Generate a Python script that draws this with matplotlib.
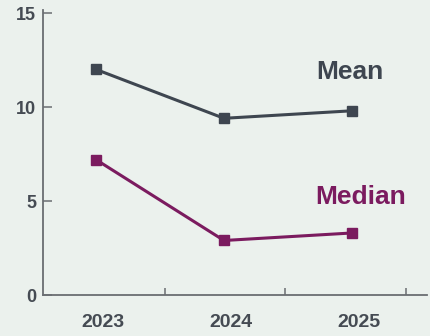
import matplotlib
matplotlib.use("Agg")
import matplotlib.pyplot as plt
from matplotlib.transforms import ScaledTranslation

plt.rcParams['font.family'] = ['Liberation Sans', 'DejaVu Sans']

# series values
years = [2023, 2024, 2025]
year_labels = ['2023', '2024', '2025']
mean_vals = [12.0, 9.4, 9.8]
median_vals = [7.2, 2.9, 3.3]
y_ticks = [0, 5, 10, 15]
x_minor_ticks = [2023.54, 2024.48, 2025.42]

bg = '#ebf1ed'
mean_color = '#3e4650'
median_color = '#7b1b5f'
text_color = '#454b53'
axis_color = '#6a6e72'

fig = plt.figure(figsize=(4.31, 3.36), dpi=100, facecolor=bg)
ax = fig.add_axes([0.0998, 0.122, 0.8909, 0.8476])
ax.set_facecolor(bg)

ax.plot(years, mean_vals, color=mean_color, lw=2.2, marker='s', ms=7.2,
        solid_capstyle='butt')
ax.plot(years, median_vals, color=median_color, lw=2.2, marker='s', ms=7.2,
        solid_capstyle='butt')

ax.text(2024.72, 11.85, 'Mean', color=mean_color, fontsize=19,
        fontweight='bold', ha='left', va='center')
ax.text(2024.71, 5.2, 'Median', color=median_color, fontsize=19,
        fontweight='bold', ha='left', va='center')

ax.set_xlim(2022.586, 2025.586)
ax.set_ylim(0, 15.15)

ax.set_yticks(y_ticks)
ax.set_xticks(years, year_labels)
ax.set_xticks(x_minor_ticks, minor=True)

for side in ['top', 'right']:
    ax.spines[side].set_visible(False)
for side in ['left', 'bottom']:
    ax.spines[side].set_color(axis_color)
    ax.spines[side].set_linewidth(1.3)

ax.tick_params(axis='y', direction='in', length=6.5, width=1.1,
               color=axis_color, labelsize=13, labelcolor=text_color, pad=5)
ax.tick_params(axis='x', which='major', length=0, labelsize=14,
               labelcolor=text_color, pad=14)
ax.tick_params(axis='x', which='minor', direction='in', length=5, width=1.1,
               color=axis_color)

for lbl in ax.get_yticklabels() + ax.get_xticklabels():
    lbl.set_fontweight('bold')

# nudge year labels a little to the right of the points
shift = ScaledTranslation(6.5 / 100, 0, fig.dpi_scale_trans)
for lbl in ax.get_xticklabels():
    lbl.set_transform(lbl.get_transform() + shift)

fig.savefig('out.png', dpi=100, facecolor=bg)
